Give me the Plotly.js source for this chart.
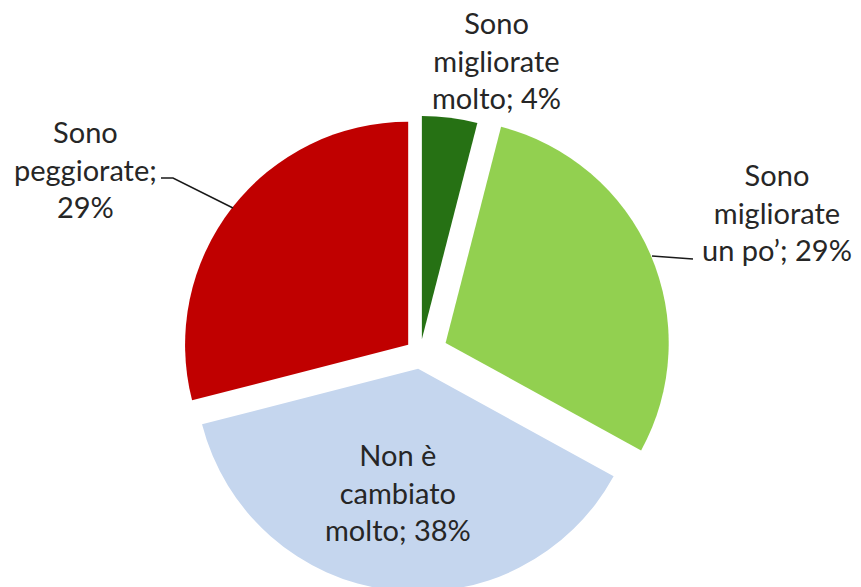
<!DOCTYPE html>
<html>
<head>
<meta charset="utf-8">
<script src="https://cdn.plot.ly/plotly-3.0.1.min.js"></script>
<style>
html, body { margin: 0; padding: 0; overflow: hidden; background: #fff; }
</style>
</head>
<body>
<div id="chart"></div>
<script>
// Data
var categories = ['Sono migliorate molto', 'Sono migliorate un po’', 'Non è cambiato molto', 'Sono peggiorate'];
var values = [4, 29, 38, 29];
var labelLines = ['Sono<br>migliorate<br>molto', 'Sono<br>migliorate<br>un po’', 'Non è<br>cambiato<br>molto', 'Sono<br>peggiorate'];
var separators = ['; ', '; ', '; ', ';<br>'];
var colors = ['#267114', '#92D050', '#C5D6EE', '#C00000'];
var pulls = [0.067, 0.125, 0.067, 0.067];

var W = 861, H = 610;
function fx(p) { return p / W; }
function fy(p) { return 1 - p / H; }

// Label placement (pixels)
var labelPos = [[496, 60], [777, 212], [398, 492], [85, 169]];

var annotations = categories.map(function (c, i) {
  return {
    text: labelLines[i] + separators[i] + values[i] + '%',
    x: fx(labelPos[i][0]), y: fy(labelPos[i][1]),
    xref: 'paper', yref: 'paper',
    xanchor: 'center', yanchor: 'middle',
    align: 'center', showarrow: false,
    font: { family: 'Lato, sans-serif', size: 29, color: '#262626' }
  };
});

function pathOf(pts) {
  return pts.map(function (p, k) { return (k ? 'L ' : 'M ') + fx(p[0]) + ' ' + fy(p[1]); }).join(' ');
}

var shapes = [
  { type: 'path', xref: 'paper', yref: 'paper', path: pathOf([[161, 178], [173, 178], [233, 208]]), line: { color: '#1a1a1a', width: 1.5 } },
  { type: 'path', xref: 'paper', yref: 'paper', path: pathOf([[652, 256], [693, 259]]), line: { color: '#1a1a1a', width: 1.5 } }
];

var trace = {
  type: 'pie',
  labels: categories,
  values: values,
  sort: false,
  direction: 'clockwise',
  rotation: 0,
  pull: pulls,
  marker: { colors: colors, line: { width: 0 } },
  textinfo: 'none',
  hoverinfo: 'label+percent',
  domain: { x: [fx(169), fx(671)], y: [fy(605), fy(103)] }
};

var layout = {
  width: W, height: H,
  margin: { l: 0, r: 0, t: 0, b: 0 },
  showlegend: false,
  paper_bgcolor: '#ffffff',
  annotations: annotations,
  shapes: shapes
};

Plotly.newPlot('chart', [trace], layout, { displayModeBar: false, staticPlot: true });
</script>
</body>
</html>
